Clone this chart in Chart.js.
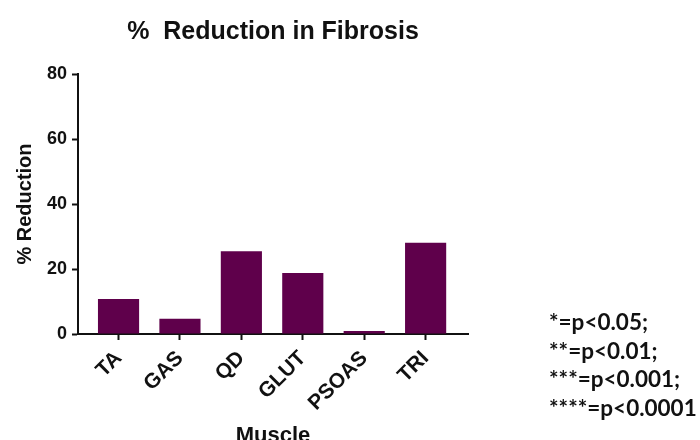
<!DOCTYPE html>
<html>
<head>
<meta charset="utf-8">
<script src="https://cdn.jsdelivr.net/npm/chart.js@4"></script>
<style>
    body { margin: 0; background: #fff; }
    #wrap { position: relative; width: 700px; height: 440px; overflow: hidden; }
    #pvals {
        position: absolute; left: 549px; top: 308px;
        font-family: Lato, "Liberation Sans", sans-serif; font-weight: bold;
        font-size: 22.5px; line-height: 28.7px; color: #111; white-space: nowrap;
    }
</style>
</head>
<body>
<div id="wrap">
    <canvas id="canvasChart" width="700" height="440"></canvas>
    <div id="pvals">*=p&lt;0.05;<br>**=p&lt;0.01;<br>***=p&lt;0.001;<br>****=p&lt;0.0001</div>
</div>
<script>
const MUSCLES = ['TA', 'GAS', 'QD', 'GLUT', 'PSOAS', 'TRI'];
const REDUCTION = [10.8, 4.7, 25.5, 18.8, 0.9, 28.1];
const Y_TICKS = [0, 20, 40, 60, 80];

const BAR_COLOR = '#5f004b';
const FONT = '"Liberation Sans", Arial, sans-serif';

try {
    let ctx = document.querySelector('#canvasChart');
    let myChart = new Chart(ctx, {
        type: 'bar',
        data: {
            datasets: [
                {
                    label: '% Reduction',
                    data: MUSCLES.map((m, i) => ({ x: i, y: REDUCTION[i] })),
                    backgroundColor: BAR_COLOR,
                    borderWidth: 0,
                    barPercentage: 0.67,
                    categoryPercentage: 1
                }
            ]
        },
        options: {
            responsive: false,
            animation: false,
            layout: {
                padding: { left: 0, right: 232, top: 0, bottom: 0 }
            },
            plugins: {
                legend: { display: false },
                tooltip: { enabled: false },
                title: {
                    display: true,
                    fullSize: false,
                    text: '%  Reduction in Fibrosis',
                    color: '#111',
                    font: { family: FONT, size: 25, weight: 'bold' },
                    padding: { top: 17, bottom: 27 }
                }
            },
            scales: {
                x: {
                    type: 'linear',
                    offset: false,
                    min: -0.66,
                    max: 5.69,
                    afterBuildTicks: (scale) => {
                        scale.ticks = MUSCLES.map((m, i) => ({ value: i }));
                    },
                    afterFit: (scale) => { scale.height = 106; },
                    ticks: {
                        autoSkip: false,
                        minRotation: 45,
                        maxRotation: 45,
                        padding: 6,
                        color: '#111',
                        font: { family: FONT, size: 21, weight: 'bold' },
                        callback: (value) => MUSCLES[value]
                    },
                    grid: {
                        offset: false,
                        drawOnChartArea: false,
                        drawTicks: true,
                        tickLength: 6,
                        tickWidth: 2,
                        color: '#111'
                    },
                    border: { display: true, color: '#111', width: 2 },
                    title: {
                        display: true,
                        text: 'Muscle',
                        color: '#111',
                        font: { family: FONT, size: 22, weight: 'bold' },
                        padding: { top: 0, bottom: -9 }
                    }
                },
                y: {
                    min: 0,
                    max: 80,
                    afterBuildTicks: (scale) => {
                        scale.ticks = Y_TICKS.map(v => ({ value: v }));
                    },
                    afterFit: (scale) => { scale.width = 78; },
                    ticks: {
                        padding: 5,
                        color: '#111',
                        font: { family: FONT, size: 18, weight: 'bold' }
                    },
                    grid: {
                        drawOnChartArea: false,
                        drawTicks: true,
                        tickLength: 6,
                        tickWidth: 2,
                        color: '#111'
                    },
                    border: { display: true, color: '#111', width: 2 },
                    title: {
                        display: true,
                        text: '% Reduction',
                        color: '#111',
                        font: { family: FONT, size: 20, weight: 'bold' },
                        padding: { top: 13, bottom: 0 }
                    }
                }
            }
        }
    });
}
catch (exception) {
    document.body.insertAdjacentText('beforeend', 'Erro ao montar o gráfico: ' + exception);
}
</script>
</body>
</html>
